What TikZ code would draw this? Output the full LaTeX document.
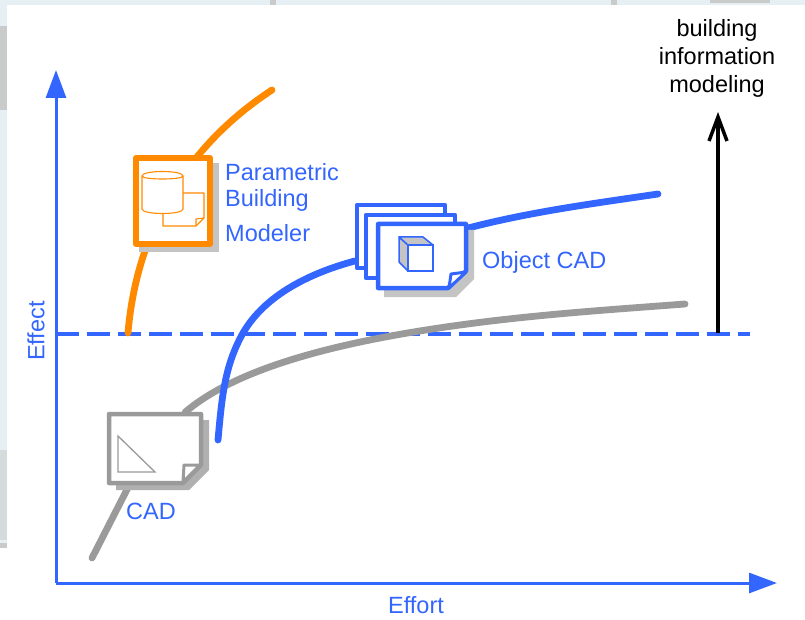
\documentclass[tikz,border=0pt]{standalone}
\usepackage{fontspec}
\setmainfont{Liberation Sans}
\usetikzlibrary{arrows.meta}
\definecolor{bl}{HTML}{3366FF}
\definecolor{orng}{HTML}{FF8A00}
\definecolor{gr}{HTML}{9A9A9A}
\definecolor{shad}{HTML}{C4C4C4}
\definecolor{edge}{HTML}{E6F0F4}
\definecolor{speck}{HTML}{C9CBCB}
\tikzset{
 x=1pt,y=-1pt,
 lbl/.style={text=bl,font=\fontsize{23.5}{28}\selectfont,inner sep=0pt},
 blk/.style={text=black,font=\fontsize{23.5}{28}\selectfont,inner sep=0pt,align=center},
 curve/.style={line width=6.8pt,line cap=round,line join=round},
 box/.style={inner sep=0pt,minimum width=#1},
 sheet/.style={draw=bl,line width=4.5pt,fill=white,line join=round},
 axis/.style={draw=bl,line width=3pt,-{Triangle[length=28pt,width=20pt,fill=bl]}},
}
\begin{document}
\begin{tikzpicture}
\useasboundingbox (0,0) rectangle (805,620);
\fill[white] (0,0) rectangle (805,620);
\fill[edge] (0,0) rectangle (805,5);
\fill[edge] (0,0) rectangle (7,548);
\fill[speck] (0,26) rectangle (7,110);
\fill[speck!60!edge] (0,450) rectangle (7,540);
\fill[speck] (0,543) rectangle (7,548);
\fill[speck] (270,0) rectangle (276,5);
\fill[speck] (611,0) rectangle (617,5);
\fill[speck] (710,0) rectangle (770,3);
% anchors
\node[box=92pt,minimum height=68pt] (objback) at (401,237) {};
\node[box=92pt,minimum height=68pt] (objfront) at (422,256) {};
\node[box=80pt,minimum height=92pt] (pbm) at (173,201) {};
\node[box=94pt,minimum height=71pt] (cad) at (155,448) {};
\coordinate (origin) at (56,583);
\coordinate (ytop) at (56,70);
\coordinate (xend) at (777,583);
\coordinate (dashl) at (56,334);
\coordinate (dashr) at (750,334);
\coordinate (bimbase) at (718,333);
\node[blk] (bim) at (717,58) {building\\information\\modeling};
\coordinate (bimtip) at (718,112);
% axes
\draw[axis] (origin) -- (ytop);
\draw[axis] (origin) -- (xend);
\draw[bl,line width=4pt,dash pattern=on 23pt off 8pt] (dashl) -- (dashr);
% curves
\coordinate (o0) at (128,333);
\coordinate (o1) at (272,90);
\draw[orng,curve] (o0) .. controls (134,260) and (165,160) .. (o1);
\coordinate (g0) at (92,558);
\coordinate (g1) at (685,304);
\draw[gr,curve] (g0) -- (cad.south west -| 130,484);
\draw[gr,curve] (cad.north -| 185,412) .. controls (240,365) and (350,340) .. (460,325) .. controls (540,314) and (620,309) .. (g1);
\coordinate (b0) at (218,440);
\coordinate (b1) at (658,194);
\draw[bl,curve] (b0) .. controls (222,395) and (225,365) .. (243,333) .. controls (265,295) and (310,273) .. (objback.west |- 0,261);
\draw[bl,curve] (objfront.east |- 0,228) .. controls (530,212) and (590,204) .. (b1);
\draw[black,line width=4pt,-{Straight Barb[length=24pt,width=18pt,line width=3.5pt]}] (bimbase) -- (bimtip);
% parametric box
\fill[shad] (139,163) rectangle (219,252);
\draw[orng,line width=6pt,fill=white,line join=round] (136,158) rectangle (210,244);
\begin{scope}[orng,line width=1.1pt]
\path[draw,fill=white,line join=round] (163,193) -- (204,193) -- (204,218) -- (196,226) -- (163,226) -- cycle;
\draw (196,226) -- (196,219) -- (204,218);
\path[draw,fill=white] (142,176) .. controls (142,170) and (183,170) .. (183,176) -- (183,209) .. controls (183,215) and (142,215) .. (142,209) -- cycle;
\draw (142,176) .. controls (142,180) and (183,180) .. (183,176);
\end{scope}
% object cad sheets
\draw[sheet] (357,205) rectangle (445,268);
\draw[sheet] (366,215) rectangle (455,278);
\fill[shad] (384,230) -- (474,230) -- (474,279) -- (456,297) -- (384,297) -- cycle;
\draw[sheet] (378,224) -- (466,224) -- (466,271) -- (448,288) -- (378,288) -- cycle;
\path[draw=bl,line width=3pt,fill=white,line join=round] (466,272) -- (451,274) -- (449,288) -- cycle;
\path[draw=bl,line width=1.5pt,fill=shad,line join=round] (399,237) -- (408,245) -- (408,271) -- (399,262) -- cycle;
\path[draw=bl,line width=1.5pt,fill=shad,line join=round] (399,237) -- (423,237) -- (433,245) -- (408,245) -- cycle;
\draw[bl,line width=1.5pt,fill=white] (408,245) rectangle (433,271);
% cad sheet
\fill[shad!90!black] (116,420) -- (209,420) -- (209,470) -- (189,490) -- (116,490) -- cycle;
\path[draw=gr,line width=4.5pt,fill=white,line join=round] (109,414) -- (201,414) -- (201,465) -- (183,483) -- (109,483) -- cycle;
\path[draw=gr,line width=3pt,fill=white,line join=round] (200,465) -- (184,465) -- (183,482) -- cycle;
\draw[gr,line width=1.3pt,line join=miter] (118,436) -- (118,472) -- (155,472) -- cycle;
% labels
\node[lbl,anchor=west] (l1) at (225,172) {Parametric};
\node[lbl,anchor=west] (l2) at (225,200) {Building};
\node[lbl,anchor=west] (l3) at (225,233) {Modeler};
\node[lbl,anchor=west] (l4) at (482,262.5) {Object CAD};
\node[lbl,anchor=west] (l5) at (126,511) {CAD};
\node[lbl] (l6) at (416,605) {Effort};
\node[lbl,rotate=90] (l7) at (36,331) {Effect};
\end{tikzpicture}
\end{document}
